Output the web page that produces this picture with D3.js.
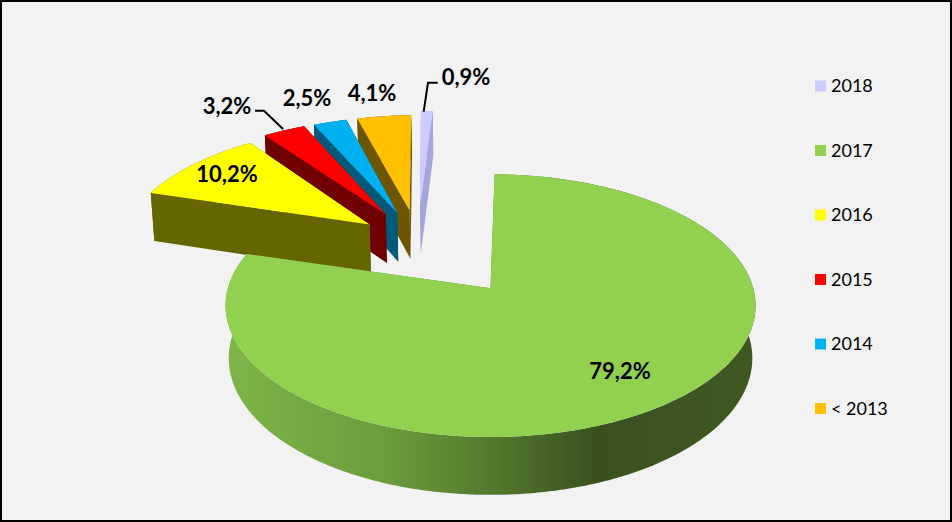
<!DOCTYPE html>
<html>
<head>
<meta charset="utf-8">
<script src="https://cdn.jsdelivr.net/npm/d3@7"></script>
<style>
  html, body { margin: 0; padding: 0; background: #f2f2f2; }
  svg { display: block; }
  text { font-family: Lato, "Open Sans", sans-serif; fill: #000; }
</style>
</head>
<body>
<script>
var width = 952;
var height = 522;

// data, in legend order
var categories = ["2018", "2017", "2016", "2015", "2014", "< 2013"];
var shares = [0.9, 79.2, 10.2, 3.2, 2.5, 4.1];
var shareLabels = ["0,9%", "79,2%", "10,2%", "3,2%", "2,5%", "4,1%"];

// colours
var topColors = ["#ccccff", "#92d050", "#ffff00", "#ff0000", "#00b0f0", "#ffc000"];
var wallColors = ["#a6a6dc", "url(#greenWall)", "#666600", "#700000", "#005a7a", "#6e5500"];

// how far each slice is pulled out of the pie, its radius and a small turn in degrees
var explosions = [0.31, 0.487, 0.245, 0.27, 0.26, 0.27];
var radii = [0.975, 1, 0.985, 0.98, 0.985, 0.975];
var turns = [0.4, 0, 1.2, 0.6, 0.5, 0.3];
var pieCentre = {u: -0.288, v: -0.39};

var labelX = [466, 620, 227, 227, 307, 372];
var labelY = [76, 370, 173, 105, 97, 92];

var svg = d3.select("body")
  .append("svg")
  .attr("width", width)
  .attr("height", height);

svg.append("rect")
  .attr("x", 1)
  .attr("y", 1)
  .attr("width", width - 2)
  .attr("height", height - 2)
  .attr("fill", "#f2f2f2")
  .attr("stroke", "#000")
  .attr("stroke-width", 2);

var grad = svg.append("defs").append("linearGradient")
  .attr("id", "greenWall")
  .attr("gradientUnits", "userSpaceOnUse")
  .attr("x1", 225).attr("x2", 755).attr("y1", 0).attr("y2", 0);
[[0, "#7fb548"], [0.3, "#6c9c3c"], [0.5, "#557a2e"], [0.7, "#39511f"], [1, "#3f5923"]].forEach(function(s) {
  grad.append("stop").attr("offset", s[0]).attr("stop-color", s[1]);
});

var color = d3.scaleOrdinal().domain(categories).range(topColors);
var wallColor = d3.scaleOrdinal().domain(categories).range(wallColors);

// tilted disc: u right, v towards the viewer, z 0 = top face, 1 = bottom face
var xScale = d3.scaleLinear().domain([-1, 1]).range([490 - 262.6, 490 + 262.6]);
var yScale = d3.scaleLinear().domain([-1, 1]).range([288 - 129, 288 + 129]);
var persp = 0.133;

function project(u, v, z) {
  var w = 1 - persp * v + 0.012 * z;
  return [xScale(u / w), yScale((v + 0.408 * z) / w)];
}

var pie = d3.pie()
  .sort(null)
  .value(function(d) { return d.share; })
  .startAngle(-2.2 * Math.PI / 180)
  .endAngle((360 - 2.2) * Math.PI / 180);

var slices = pie(categories.map(function(c, i) {
  return {category: c, share: shares[i], explode: explosions[i], radius: radii[i], turn: turns[i]};
}));

var line = d3.line();

function apex(s) {
  var mid = (s.startAngle + s.endAngle) / 2;
  return {
    u: pieCentre.u + s.data.explode * Math.sin(mid),
    v: pieCentre.v - s.data.explode * Math.cos(mid)
  };
}

function rimPoint(s, a, z) {
  var c = apex(s);
  var t = a + s.data.turn * Math.PI / 180;
  return project(c.u + s.data.radius * Math.sin(t), c.v - s.data.radius * Math.cos(t), z);
}

function rim(s, z) {
  var n = Math.max(4, Math.ceil((s.endAngle - s.startAngle) / 0.01));
  return d3.range(n + 1).map(function(i) {
    return rimPoint(s, s.startAngle + (s.endAngle - s.startAngle) * i / n, z);
  });
}

function topFace(s) {
  var c = apex(s);
  return line([project(c.u, c.v, 0)].concat(rim(s, 0))) + "Z";
}

function outerWall(s) {
  return line(rim(s, 0).concat(rim(s, 1).reverse())) + "Z";
}

function radialWall(s, a) {
  var c = apex(s);
  return line([project(c.u, c.v, 0), rimPoint(s, a, 0), rimPoint(s, a, 1), project(c.u, c.v, 1)]) + "Z";
}

// painter's order, far slices first and the big one last
var drawOrder = ["2018", "< 2013", "2014", "2015", "2016", "2017"];
var ordered = drawOrder.map(function(c) {
  return slices[categories.indexOf(c)];
});

var sliceG = svg.selectAll("g.slice")
  .data(ordered)
  .enter()
  .append("g")
    .attr("class", "slice");

sliceG.append("path")
  .attr("d", outerWall)
  .attr("fill", function(d) { return wallColor(d.data.category); });

sliceG.append("path")
  .attr("d", function(d) { return radialWall(d, d.endAngle); })
  .attr("fill", function(d) { return wallColor(d.data.category); });

sliceG.append("path")
  .attr("d", function(d) { return radialWall(d, d.startAngle); })
  .attr("fill", function(d) { return wallColor(d.data.category); });

sliceG.append("path")
  .attr("d", topFace)
  .attr("fill", function(d) { return color(d.data.category); });

// leader lines
var leaders = [
  [[255, 110.7], [264, 110.7], [283, 129]],
  [[437.7, 82.7], [428, 82.7], [423.7, 111.7]]
];

svg.selectAll("path.leader")
  .data(leaders)
  .enter()
  .append("path")
    .attr("class", "leader")
    .attr("d", line)
    .attr("fill", "none")
    .attr("stroke", "#000")
    .attr("stroke-width", 2);

svg.selectAll("text.share")
  .data(shareLabels)
  .enter()
  .append("text")
    .attr("class", "share")
    .attr("x", function(d, i) { return labelX[i]; })
    .attr("y", function(d, i) { return labelY[i]; })
    .attr("text-anchor", "middle")
    .attr("dominant-baseline", "central")
    .attr("font-size", 22)
    .attr("font-weight", "bold")
    .text(function(d) { return d; });

// legend
var legendY = d3.scalePoint().domain(categories).range([85, 407.5]);

var legend = svg.selectAll("g.legend")
  .data(categories)
  .enter()
  .append("g")
    .attr("class", "legend")
    .attr("transform", function(d) { return "translate(815," + legendY(d) + ")"; });

legend.append("rect")
  .attr("x", 0)
  .attr("y", -4.5)
  .attr("width", 11)
  .attr("height", 11)
  .attr("fill", function(d) { return color(d); });

legend.append("text")
  .attr("x", 16)
  .attr("y", 0)
  .attr("dominant-baseline", "central")
  .attr("font-size", 18)
  .text(function(d) { return d; });
</script>
</body>
</html>
